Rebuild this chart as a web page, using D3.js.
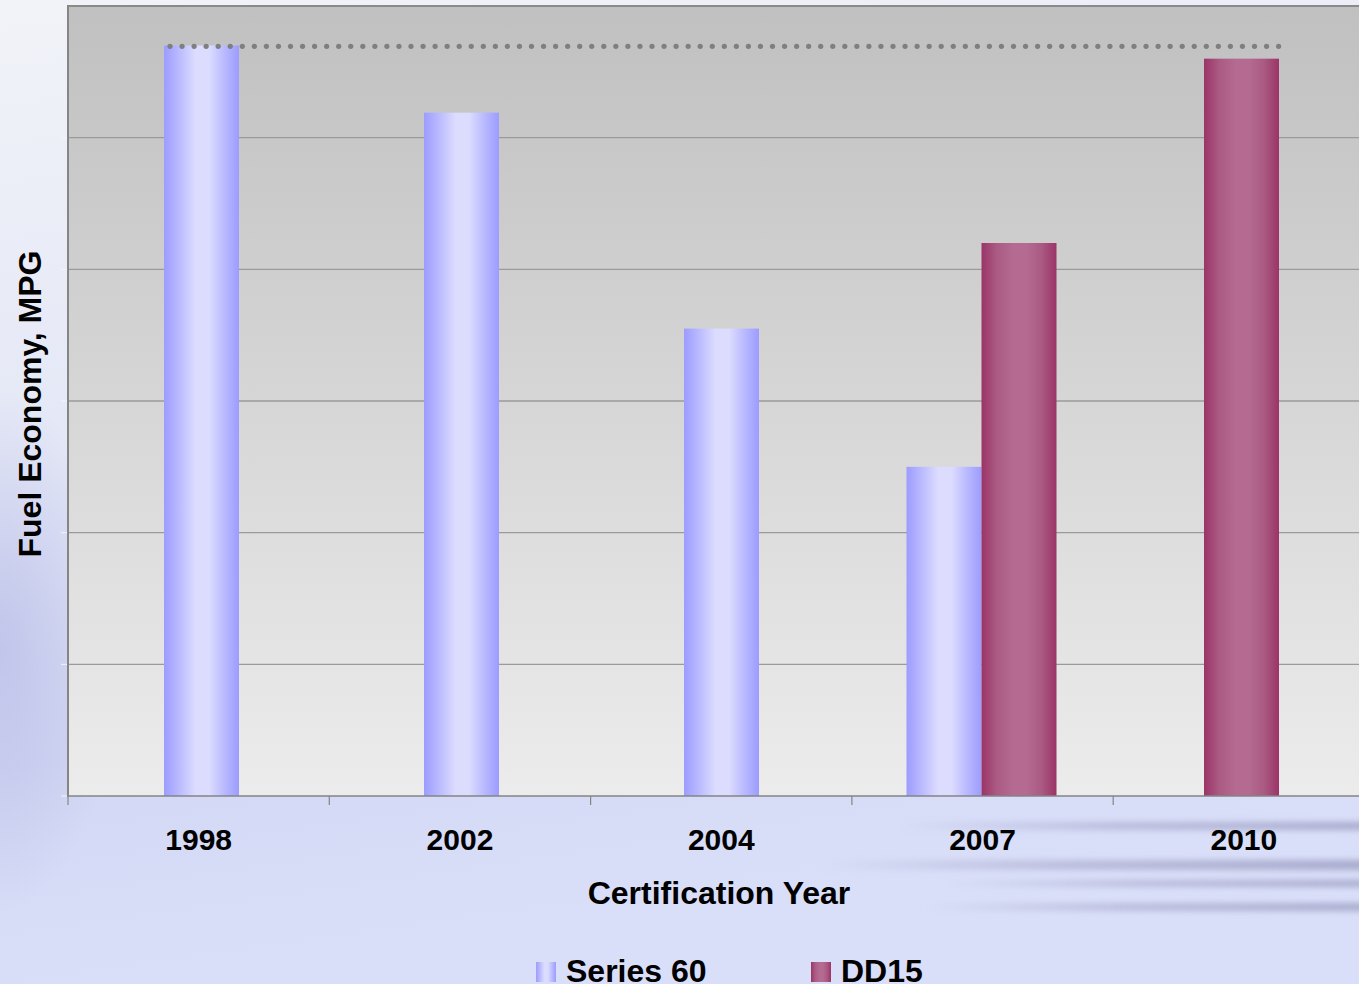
<!DOCTYPE html>
<html>
<head>
<meta charset="utf-8">
<script src="https://cdn.jsdelivr.net/npm/d3@7"></script>
<style>
  html, body { margin: 0; padding: 0; overflow: hidden; }
  body { width: 1359px; height: 984px; }
  text { font-family: "Liberation Sans", Arial, sans-serif; font-weight: bold; fill: #000; }
</style>
</head>
<body>
<svg id="chart" width="1359" height="984"></svg>
<script>
// Data (no value labels in the original, so scale is relative)
const years = ['1998', '2002', '2004', '2007', '2010'];
const series = ['Series 60', 'DD15'];
const series60 = [5.70, 5.19, 3.55, 2.50, null];
const dd15 = [null, null, null, 4.20, 5.60];
const referenceLevel = 5.70;   // dotted line at 1998 level
const yTicks = [0, 1, 2, 3, 4, 5, 6];

const W = 1359, H = 984;
const m = { left: 68, top: 6, bottom: 796 };
const svg = d3.select('#chart');
const defs = svg.append('defs');

// page background
const bg = defs.append('linearGradient').attr('id', 'bg').attr('x1', 0).attr('y1', 0).attr('x2', 0.2).attr('y2', 1);
bg.append('stop').attr('offset', '0%').attr('stop-color', '#f1f3f8');
bg.append('stop').attr('offset', '45%').attr('stop-color', '#e4e7f6');
bg.append('stop').attr('offset', '75%').attr('stop-color', '#d2d7f4');
bg.append('stop').attr('offset', '100%').attr('stop-color', '#dadff9');
svg.append('rect').attr('width', W).attr('height', H).attr('fill', 'url(#bg)');

// soft shade on the left side
const leftShade = defs.append('radialGradient').attr('id', 'leftShade')
  .attr('gradientUnits', 'userSpaceOnUse').attr('cx', 0).attr('cy', 650).attr('r', 260)
  .attr('gradientTransform', 'translate(0,650) scale(0.45,1) translate(0,-650)');
leftShade.append('stop').attr('offset', '0%').attr('stop-color', '#b6bbe6').attr('stop-opacity', 0.7);
leftShade.append('stop').attr('offset', '100%').attr('stop-color', '#b6bbe6').attr('stop-opacity', 0);
svg.append('rect').attr('x', 0).attr('y', 0).attr('width', 300).attr('height', H).attr('fill', 'url(#leftShade)');

// streaks lower right
const streak = defs.append('linearGradient').attr('id', 'streak');
streak.append('stop').attr('offset', '0%').attr('stop-color', '#9a9cc0').attr('stop-opacity', 0);
streak.append('stop').attr('offset', '45%').attr('stop-color', '#9a9cc0').attr('stop-opacity', 0.5);
streak.append('stop').attr('offset', '100%').attr('stop-color', '#9a9cc0').attr('stop-opacity', 0.8);
defs.append('filter').attr('id', 'blur').attr('x', '-20%').attr('y', '-200%').attr('width', '140%').attr('height', '500%')
  .append('feGaussianBlur').attr('stdDeviation', '2 3');
[[822, 8, 900], [860, 10, 820], [880, 7, 940], [903, 8, 920]].forEach(([yy, h, x0]) => {
  svg.append('rect').attr('x', x0).attr('y', yy).attr('width', W - x0 + 20).attr('height', h)
    .attr('fill', 'url(#streak)').attr('filter', 'url(#blur)');
});

// scales: categories (ticks) and bar slots
const x = d3.scaleBand().domain(years).range([m.left, m.left + 261.3 * years.length]).padding(0);
const xBar = d3.scaleBand().domain(years).range([71.5, 71.5 + 260 * years.length]).padding(0);
const barW = 75;
const y = d3.scaleLinear().domain([0, 6]).range([m.bottom, m.top]);

// plot area gradient
const plotBg = defs.append('linearGradient').attr('id', 'plotBg').attr('x1', 0).attr('y1', 0).attr('x2', 0).attr('y2', 1);
plotBg.append('stop').attr('offset', '0%').attr('stop-color', '#c0c0c0');
plotBg.append('stop').attr('offset', '100%').attr('stop-color', '#ececec');
svg.append('rect').attr('x', m.left).attr('y', m.top).attr('width', W - m.left).attr('height', m.bottom - m.top)
  .attr('fill', 'url(#plotBg)');

// gridlines
svg.append('g').selectAll('line').data(yTicks.slice(1)).join('line')
  .attr('x1', m.left).attr('x2', W).attr('y1', d => y(d)).attr('y2', d => y(d))
  .attr('stroke', d => d === 6 ? '#8a8a8a' : '#9a9a9a').attr('stroke-width', d => d === 6 ? 2 : 1.3);
// faint y ticks
svg.append('g').selectAll('line').data(yTicks).join('line')
  .attr('x1', m.left - 7).attr('x2', m.left).attr('y1', d => y(d)).attr('y2', d => y(d))
  .attr('stroke', '#f4f4fa').attr('stroke-width', 1);

// bar gradients
function barGrad(id, edge, mid, center) {
  const g = defs.append('linearGradient').attr('id', id).attr('x1', 0).attr('y1', 0).attr('x2', 1).attr('y2', 0);
  [[0, edge], [0.2, mid], [0.42, center], [0.6, center], [0.8, mid], [1, edge]]
    .forEach(([o, c]) => g.append('stop').attr('offset', o).attr('stop-color', c));
}
barGrad('g0', '#9c9cff', '#babaff', '#dcdcff');
barGrad('g1', '#9b3467', '#aa5a83', '#b46a91');

// bars: centred in slot; pairs side by side
const bars = [];
years.forEach((yr, i) => {
  const vals = [series60[i], dd15[i]];
  const present = vals.map((v, s) => ({ v, s })).filter(d => d.v != null);
  const cx = xBar(yr) + xBar.bandwidth() / 2;
  present.forEach((d, k) => {
    bars.push({ year: yr, s: d.s, v: d.v, x: cx - present.length * barW / 2 + k * barW });
  });
});
svg.append('g').selectAll('rect').data(bars).join('rect')
  .attr('x', d => d.x).attr('width', barW)
  .attr('y', d => y(d.v)).attr('height', d => y(0) - y(d.v))
  .attr('fill', d => `url(#g${d.s})`);

// dotted reference line
const first = bars.find(b => b.year === years[0]);
const last = bars.find(b => b.year === years[years.length - 1]);
const dots = d3.range(first.x + 6, last.x + barW, 12.05);
svg.append('g').selectAll('circle').data(dots).join('circle')
  .attr('cx', d => d).attr('cy', y(referenceLevel) + 0.8).attr('r', 2.6).attr('fill', '#7f7f7f');

// axes lines
svg.append('line').attr('x1', m.left).attr('x2', m.left).attr('y1', m.top - 1).attr('y2', m.bottom + 1)
  .attr('stroke', '#858585').attr('stroke-width', 2);
svg.append('line').attr('x1', m.left).attr('x2', W).attr('y1', m.bottom).attr('y2', m.bottom)
  .attr('stroke', '#858585').attr('stroke-width', 1.5);

// x axis ticks and labels
const xAxis = svg.append('g').attr('transform', `translate(0,${m.bottom})`)
  .call(d3.axisBottom(x).tickSize(0).tickPadding(0));
xAxis.select('.domain').remove();
xAxis.selectAll('text').attr('dy', null).attr('y', 54).attr('font-size', 30)
  .attr('font-family', '"Liberation Sans", Arial, sans-serif').attr('font-weight', 'bold').attr('fill', '#000');
svg.append('g').selectAll('line').data(years).join('line')
  .attr('x1', d => x(d)).attr('x2', d => x(d)).attr('y1', m.bottom).attr('y2', m.bottom + 9)
  .attr('stroke', '#858585').attr('stroke-width', 1.2);

// axis titles
svg.append('text').attr('x', 719).attr('y', 904).attr('text-anchor', 'middle').attr('font-size', 32)
  .text('Certification Year');
svg.append('text').attr('transform', 'translate(41,404) rotate(-90)').attr('text-anchor', 'middle')
  .attr('font-size', 32).text('Fuel Economy, MPG');

// legend
const legX = [536, 811];
const leg = svg.append('g').selectAll('g').data(series).join('g')
  .attr('transform', (d, i) => `translate(${legX[i]},962)`);
leg.append('rect').attr('width', 20).attr('height', 20).attr('fill', (d, i) => `url(#g${i})`);
leg.append('text').attr('x', 30).attr('y', 20).attr('font-size', 32).text(d => d);
</script>
</body>
</html>
